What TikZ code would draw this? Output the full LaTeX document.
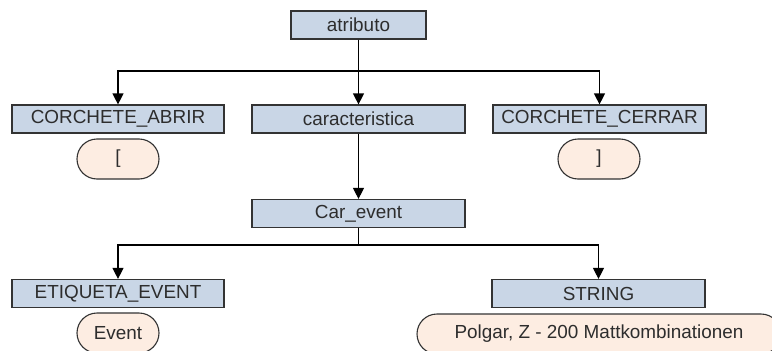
\documentclass[tikz,border=0pt]{standalone}
\usepackage{fontspec}
\setmainfont{Liberation Sans}
\usetikzlibrary{arrows.meta}
\definecolor{boxfill}{RGB}{201,214,230}
\definecolor{pillfill}{RGB}{253,237,226}
\definecolor{edge}{RGB}{51,51,51}
\definecolor{ink}{RGB}{45,45,45}
\begin{document}
\begin{tikzpicture}[x=1pt,y=-1pt,
  every node/.style={inner sep=0pt, text=ink, font=\fontsize{18.9}{21}\selectfont},
  rulebox/.style={draw=edge, line width=1.2pt, fill=boxfill, minimum height=28pt},
  pill/.style={draw=edge, line width=1.1pt, fill=pillfill, minimum height=40pt, rounded corners=20pt},
  link/.style={draw=black, line width=1.2pt},
  arr/.style={link, -{Triangle[width=11pt,length=11pt]}}]
\useasboundingbox (0,0) rectangle (772,351);
\clip (0,0) rectangle (772,351);
\fill[white] (0,0) rectangle (772,351);

% rule boxes
\node[rulebox, minimum width=135pt] (atributo) at (358.5,25) {atributo};
\node[rulebox, minimum width=212pt] (abrir)  at (118,119) {CORCHETE\_ABRIR};
\node[rulebox, minimum width=213pt] (caract) at (358.5,119) {caracteristica};
\node[rulebox, minimum width=213pt] (cerrar) at (599.5,119) {CORCHETE\_CERRAR};
\node[rulebox, minimum width=213pt] (carev)  at (358.5,213.5) {Car\_event};
\node[rulebox, minimum width=212pt] (etiq)   at (118,293.5) {ETIQUETA\_EVENT};
\node[rulebox, minimum width=213pt] (string) at (598.5,293.5) {STRING};

% terminal values
\node[pill, minimum width=82pt] (lbr) at (118,159) {[};
\node[pill, minimum width=82pt] (rbr) at (599,159) {]};
\node[pill, minimum width=82pt] (event) at (118,333) {Event};
\node[pill, minimum width=364pt] (polgar) at (599,334) {Polgar, Z - 200 Mattkombinationen};

% junctions
\coordinate (j1) at (358.5,71);
\coordinate (j2) at (358.5,245);

% connectors
\draw[link] (atributo) -- (j1);
\draw[arr] (j1) -| (abrir);
\draw[arr] (j1) -| (cerrar);
\draw[arr] (atributo) -- (caract);
\draw[arr] (caract) -- (carev);
\draw[link] (carev) -- (j2);
\draw[arr] (j2) -| (etiq);
\draw[arr] (j2) -| (string);
\end{tikzpicture}
\end{document}
